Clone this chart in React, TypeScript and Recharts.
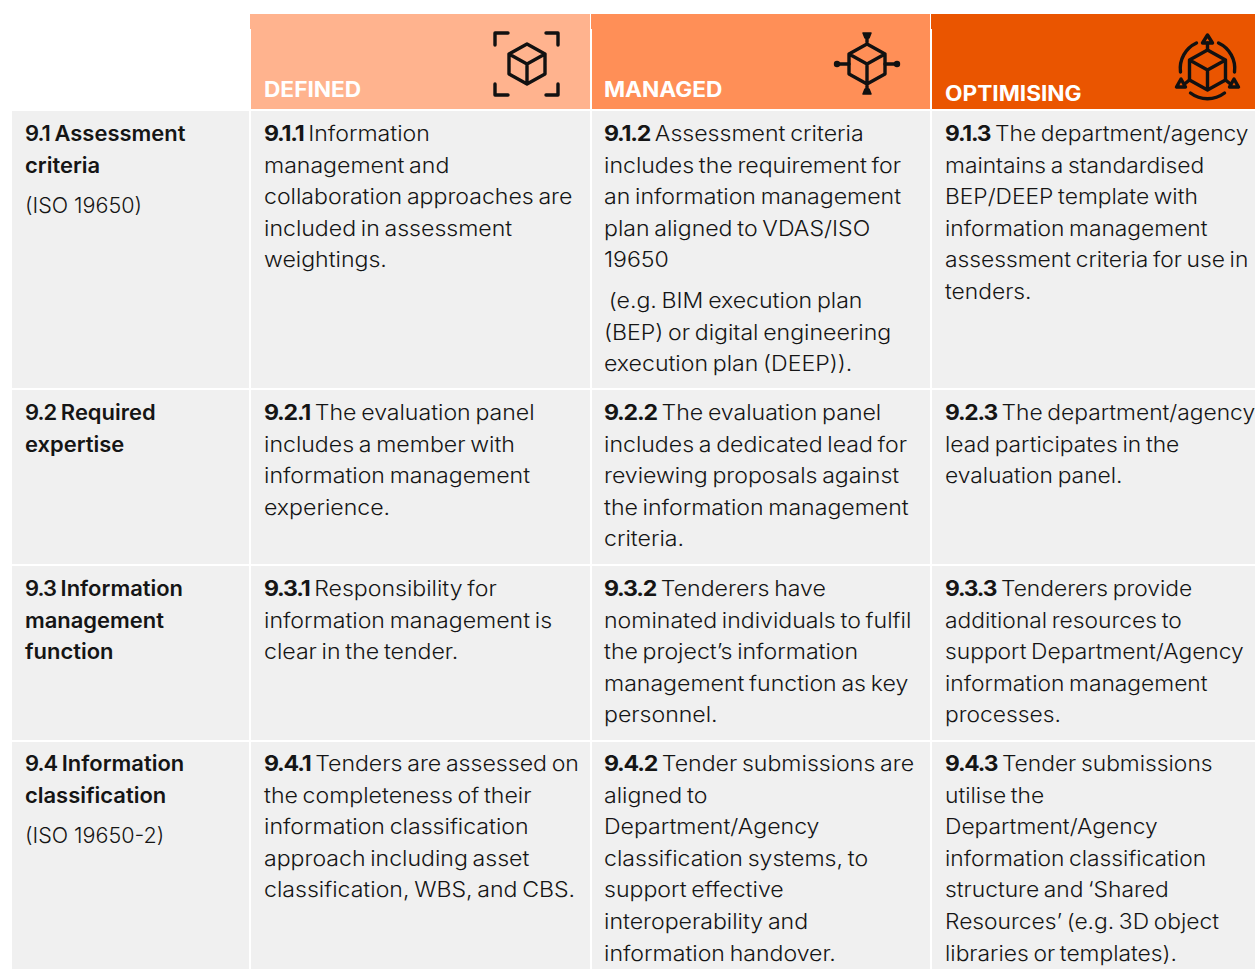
import React from "react";
import { ScatterChart, Scatter, XAxis, YAxis, ReferenceArea } from "recharts";

const WIDTH = 1255;
const HEIGHT = 969;
const FONT = "Inter, sans-serif";
const FONT_SIZE = 21;
const LINE = 31.6;
const PARA_GAP = 9;
const BODY_STRETCH = [1.045, 1.1, 1.1, 1.085];
const BODY_WORD_GAP = -1.6;
const NOTE_STRETCH = 1.025;
const HEADER_STRETCH = 1.08;

const columnEdges = [[12, 249], [251, 590], [592, 930], [932, 1255]];
const textColumns = [25, 264, 604, 945];
const rowEdges = [[111, 388], [390, 564], [566, 740], [742, 969]];
const rowBaselines = [141, 420, 596, 771];
const headerFills = ["#ffb38e", "#ff8f57", "#ea5500"];
const headerLabels = ["DEFINED", "MANAGED", "OPTIMISING"];
const headerBaselines = [97, 97, 101];
const iconCentres = [[527, 64], [867, 64], [1207.5, 70]];

const labels: string[][][] = [
  [["9.1 Assessment", "criteria"], ["(ISO 19650)"]],
  [["9.2 Required", "expertise"]],
  [["9.3 Information", "management", "function"]],
  [["9.4 Information", "classification"], ["(ISO 19650-2)"]],
];
const defined: string[][][] = [
  [["9.1.1 Information", "management and", "collaboration approaches are", "included in assessment", "weightings."]],
  [["9.2.1 The evaluation panel", "includes a member with", "information management", "experience."]],
  [["9.3.1 Responsibility for", "information management is", "clear in the tender."]],
  [["9.4.1 Tenders are assessed on", "the completeness of their", "information classification", "approach including asset", "classification, WBS, and CBS."]],
];
const managed: string[][][] = [
  [["9.1.2 Assessment criteria", "includes the requirement for", "an information management", "plan aligned to VDAS/ISO", "19650"], [" (e.g. BIM execution plan", "(BEP) or digital engineering", "execution plan (DEEP))."]],
  [["9.2.2 The evaluation panel", "includes a dedicated lead for", "reviewing proposals against", "the information management", "criteria."]],
  [["9.3.2 Tenderers have", "nominated individuals to fulfil", "the project’s information", "management function as key", "personnel."]],
  [["9.4.2 Tender submissions are", "aligned to", "Department/Agency", "classification systems, to", "support effective", "interoperability and", "information handover."]],
];
const optimising: string[][][] = [
  [["9.1.3 The department/agency", "maintains a standardised", "BEP/DEEP template with", "information management", "assessment criteria for use in", "tenders."]],
  [["9.2.3 The department/agency", "lead participates in the", "evaluation panel."]],
  [["9.3.3 Tenderers provide", "additional resources to", "support Department/Agency", "information management", "processes."]],
  [["9.4.3 Tender submissions", "utilise the", "Department/Agency", "information classification", "structure and ‘Shared", "Resources’ (e.g. 3D object", "libraries or templates)."]],
];

const columns = [labels, defined, managed, optimising];

type TextPoint = { x: number; y: number; text: string; col: number; first: boolean; para: number };
const textPoints: TextPoint[] = [];
columns.forEach((col, c) =>
  col.forEach((cell, r) => {
    let y = rowBaselines[r];
    cell.forEach((para, p) => {
      para.forEach((text, l) => {
        textPoints.push({ x: textColumns[c], y, text, col: c, first: p === 0 && l === 0, para: p });
        y += LINE;
      });
      y += PARA_GAP;
    });
  })
);

const headerPoints = headerLabels.map((text, i) => ({ x: textColumns[i + 1], y: headerBaselines[i], text }));
const iconPoints = iconCentres.map(([x, y], i) => ({ x, y, kind: i }));

const ink = "#111111";

function TextMark(props: any) {
  const { cx, cy, payload } = props;
  const { text, col, first, para } = payload as TextPoint;
  const stretch = col === 0 && para > 0 ? NOTE_STRETCH : BODY_STRETCH[col];
  const common = {
    x: 0,
    y: 0,
    transform: `translate(${cx},${cy}) scale(${stretch},1)`,
    fontFamily: FONT,
    fontSize: FONT_SIZE,
    fill: "#151515",
    style: { whiteSpace: "pre" as const, wordSpacing: col > 0 ? BODY_WORD_GAP : 0 },
  };
  if (col === 0) {
    if (para > 0) return <text {...common} fontWeight={300}>{text}</text>;
    if (first) {
      const i = text.indexOf(" ");
      return (
        <text {...common} fontWeight={600}>
          <tspan letterSpacing={-0.9}>{text.slice(0, i + 1)}</tspan>
          {text.slice(i + 1)}
        </text>
      );
    }
    return <text {...common} fontWeight={600}>{text}</text>;
  }
  if (first) {
    const i = text.indexOf(" ");
    return (
      <text {...common} fontWeight={300}>
        <tspan fontWeight={700} letterSpacing={-1.1}>{text.slice(0, i)}</tspan>
        {text.slice(i)}
      </text>
    );
  }
  return <text {...common} fontWeight={300}>{text}</text>;
}

function HeaderMark(props: any) {
  const { cx, cy, payload } = props;
  return (
    <text transform={`translate(${cx},${cy}) scale(${HEADER_STRETCH},1)`} x={0} y={0} fontFamily={FONT} fontSize={21} fontWeight={700} fill="#ffffff">
      {payload.text}
    </text>
  );
}

const cube = "M0,-20 L18,-10 L18,10 L0,20 L-18,10 L-18,-10 Z M-18,-10 L0,0 L18,-10 M0,0 L0,20";
const brackets =
  "M-19,-31 L-32,-31 L-32,-19 M19,-31 L31,-31 L31,-19 M-32,20 L-32,31 L-19,31 M19,31 L31,31 L31,20";
const stubs = "M-18,0 L-30,0 M18,0 L30,0 M0,-22 L0,-28 M0,22 L0,28";

function IconMark(props: any) {
  const { cx, cy, payload } = props;
  const k = payload.kind;
  const base = { fill: "none", stroke: ink, strokeWidth: 3.4, strokeLinecap: "round" as const, strokeLinejoin: "round" as const };
  return (
    <g transform={`translate(${cx},${cy})`}>
      <path d={cube} {...base} />
      {k === 0 && <path d={brackets} {...base} />}
      {k === 1 && (
        <g>
          <path d={stubs} {...base} />
          <circle cx={-30} cy={0} r={3.2} fill={ink} />
          <circle cx={30} cy={0} r={3.2} fill={ink} />
          <path d="M-4,-31 L4,-31 L2,-26 L-2,-26 Z" {...base} fill={ink} strokeWidth={1.5} />
          <path d="M-4,30 L4,30 L2,25 L-2,25 Z" {...base} fill={ink} strokeWidth={1.5} />
        </g>
      )}
      {k === 2 && (
        <g>
          <path d="M-27,2 A28,28 0 0 1 -11,-27" {...base} />
          <path d="M11,-27 A28,28 0 0 1 27,2" {...base} />
          <path d="M-17,23 A28,28 0 0 0 17,23" {...base} />
          <path d="M0,-20 L0,-27 M-18,10 L-23,14 M18,10 L23,14" {...base} />
          <path d="M0,-35 L5,-27 L-5,-27 Z" {...base} strokeWidth={3.4} />
          <path d="M-26.5,9 L-31,17 L-22,17 Z" {...base} strokeWidth={3.4} />
          <path d="M26.5,9 L31,17 L22,17 Z" {...base} strokeWidth={3.4} />
        </g>
      )}
    </g>
  );
}

export default function App() {
  return (
    <div style={{ position: "absolute", left: 0, top: 0, width: WIDTH, height: HEIGHT, overflow: "hidden", background: "#fff" }}>
      <ScatterChart width={WIDTH} height={HEIGHT} margin={{ top: 0, right: 0, bottom: 0, left: 0 }}>
        <XAxis type="number" dataKey="x" domain={[0, WIDTH]} hide />
        <YAxis type="number" dataKey="y" domain={[0, HEIGHT]} reversed hide />
        {rowEdges.map(([y1, y2], r) =>
          columnEdges.map(([x1, x2], c) => (
            <ReferenceArea key={`${r}-${c}`} x1={x1} x2={x2} y1={y1} y2={y2} fill="#f0f0f0" fillOpacity={1} stroke="none" ifOverflow="visible" />
          ))
        )}
        {headerFills.map((fill, i) => (
          <ReferenceArea key={`h${i}`} x1={columnEdges[i + 1][0]} x2={columnEdges[i + 1][1]} y1={29} y2={109} fill={fill} fillOpacity={1} stroke="none" ifOverflow="visible" />
        ))}
        {headerFills.map((fill, i) => (
          <ReferenceArea key={`t${i}`} x1={columnEdges[i + 1][0] - 1} x2={columnEdges[i + 1][1]} y1={14} y2={29} fill={fill} fillOpacity={1} stroke="none" ifOverflow="visible" />
        ))}
        <Scatter data={headerPoints} shape={HeaderMark} isAnimationActive={false} />
        <Scatter data={iconPoints} shape={IconMark} isAnimationActive={false} />
        <Scatter data={textPoints} shape={TextMark} isAnimationActive={false} />
      </ScatterChart>
    </div>
  );
}
